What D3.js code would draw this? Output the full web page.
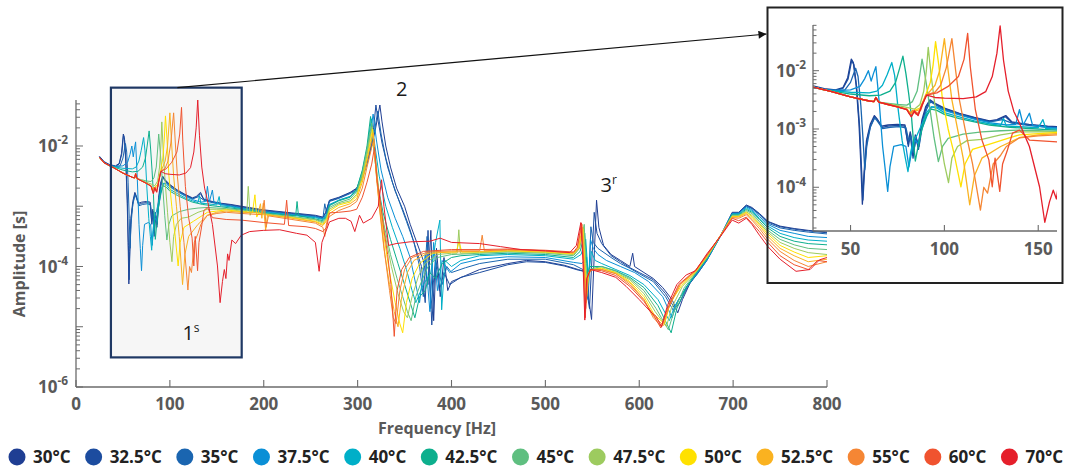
<!DOCTYPE html>
<html>
<head>
<meta charset="utf-8">
<script src="https://cdn.jsdelivr.net/npm/d3@7"></script>
<style>
  html, body { margin: 0; padding: 0; background: #fff; }
  svg { display: block; font-family: "Open Sans", "Noto Sans", sans-serif; }
</style>
</head>
<body>
<svg id="chart" width="1067" height="468"></svg>
<script>
// Frequency response amplitude vs. frequency, one curve per core temperature.
const temperatures = ["30°C", "32.5°C", "35°C", "37.5°C", "40°C", "42.5°C", "45°C",
                      "47.5°C", "50°C", "52.5°C", "55°C", "60°C", "70°C"];
const lineColors = ["#1f3e93", "#1c4c9f", "#1a65b0", "#0a8fd6", "#00afc8", "#0daf8d", "#5fbf80",
                    "#9dcb5f", "#ffe100", "#fab220", "#f58634", "#f0532f", "#e51f2b"];

const xTicksMain = [0, 100, 200, 300, 400, 500, 600, 700, 800];
const yLabelExpMain = [-6, -4, -2];
const xTicksInset = [50, 100, 150];
const yLabelExpInset = [-4, -3, -2];

// [frequency Hz, amplitude s]
const amp30 = [[25,6.76e-3],[30,5.50e-3],[36,4.90e-3],[42,4.68e-3],[46,5.13e-3],[48.5,7.59e-3],[50.4,1.58e-2],[51.5,1.38e-2],[53,5.62e-3],[54.5,1.26e-3],[55.5,2.51e-4],[56.3,5.13e-5],[57.2,1.78e-4],[58.5,6.31e-4],[60.5,1.20e-3],[62.7,1.70e-3],[64,1.51e-3],[66.5,1.12e-3],[70,1.17e-3],[75,1.20e-3],[79,1.17e-3],[80.6,5.62e-4],[81.8,8.91e-4],[83,3.55e-4],[84.5,7.94e-4],[86,5.01e-4],[88,1.41e-3],[90,2.40e-3],[92.3,3.16e-3],[95,2.75e-3],[100,2.29e-3],[108,1.86e-3],[116,1.58e-3],[124,1.38e-3],[128,1.45e-3],[132.7,1.70e-3],[136,1.32e-3],[145,1.20e-3],[155,1.12e-3],[165,1.07e-3],[176,1.00e-3],[200,8.71e-4],[230,7.76e-4],[255,7.08e-4],[263,6.61e-4],[266,7.94e-4],[270,1.26e-3],[280,1.41e-3],[292,1.70e-3],[299,2.00e-3],[305,3.16e-3],[310,5.62e-3],[315,1.00e-2],[319,1.91e-2],[323.7,4.79e-2],[326,2.51e-2],[330,1.00e-2],[335,4.47e-3],[341.5,2.00e-3],[350,1.00e-3],[356,5.01e-4],[363,2.51e-4],[370,1.26e-4],[375,5.01e-5],[378,3.98e-4],[381,1.26e-5],[384,2.00e-4],[388,3.16e-5],[392,1.41e-4],[396,3.98e-5],[400,5.62e-5],[415,7.08e-5],[430,8.91e-5],[460,1.12e-4],[480,1.26e-4],[500,1.20e-4],[520,1.05e-4],[535,8.91e-5],[542,8.32e-5],[549.2,1.32e-5],[554.5,1.26e-3],[557,4.47e-4],[562,2.24e-4],[570,1.58e-4],[580,1.26e-4],[590,1.00e-4],[593,1.66e-4],[595,1.00e-4],[605,7.94e-5],[615,6.31e-5],[625,4.47e-5],[635,2.82e-5],[641,1.70e-5],[646,2.82e-5],[654,5.25e-5],[662,7.94e-5],[672,1.32e-4],[688,3.55e-4],[699,7.94e-4],[706,7.94e-4],[714,1.05e-3],[720,9.55e-4],[728,7.59e-4],[737,5.62e-4],[750,4.68e-4],[765,4.27e-4],[780,3.98e-4],[800,3.72e-4]];

const amp32_5 = [[25,6.61e-3],[30,5.37e-3],[36,4.79e-3],[42,4.57e-3],[46,5.01e-3],[48.7,7.24e-3],[50.6,1.51e-2],[51.8,1.26e-2],[53.3,5.01e-3],[54.8,1.12e-3],[55.8,2.24e-4],[56.6,6.03e-5],[57.5,2.00e-4],[58.8,6.61e-4],[60.8,1.15e-3],[62.9,1.62e-3],[64.3,1.45e-3],[66.8,1.07e-3],[70,1.12e-3],[75,1.15e-3],[79,1.12e-3],[80.8,5.01e-4],[82,8.32e-4],[83.3,3.16e-4],[84.8,7.59e-4],[86.2,4.47e-4],[88.2,1.32e-3],[90.2,2.29e-3],[92.5,3.09e-3],[95,2.69e-3],[100,2.24e-3],[108,1.82e-3],[116,1.55e-3],[124,1.35e-3],[128,1.41e-3],[132.5,1.62e-3],[136,1.29e-3],[145,1.17e-3],[155,1.10e-3],[165,1.05e-3],[176,9.77e-4],[200,8.51e-4],[230,7.59e-4],[255,6.92e-4],[263,6.46e-4],[266,7.76e-4],[270,1.23e-3],[280,1.38e-3],[292,1.66e-3],[299,1.95e-3],[305,3.02e-3],[310,5.25e-3],[314,1.00e-2],[317,2.00e-2],[319.5,4.79e-2],[322,2.51e-2],[326,1.12e-2],[332,4.47e-3],[340,1.78e-3],[348,8.91e-4],[355,4.47e-4],[362,2.00e-4],[368,1.00e-4],[372,2.51e-5],[375,3.98e-4],[379,1.07e-5],[383,1.26e-4],[387,3.98e-5],[392,7.94e-5],[398,5.01e-5],[410,6.61e-5],[430,7.94e-5],[460,1.07e-4],[480,1.20e-4],[500,1.17e-4],[520,1.02e-4],[535,8.71e-5],[541,8.32e-5],[547,2.00e-5],[552,7.94e-4],[555,3.55e-4],[560,2.40e-4],[570,1.51e-4],[580,1.20e-4],[590,9.55e-5],[600,7.94e-5],[615,6.03e-5],[628,3.55e-5],[638,2.00e-5],[643,2.51e-5],[652,4.79e-5],[662,7.59e-5],[672,1.26e-4],[688,3.55e-4],[699,7.76e-4],[706,7.76e-4],[714,1.02e-3],[720,9.33e-4],[728,7.41e-4],[737,5.50e-4],[750,4.57e-4],[765,4.17e-4],[780,3.89e-4],[800,3.63e-4]];

const amp35 = [[25,6.61e-3],[30,5.37e-3],[36,4.79e-3],[42,4.57e-3],[47,4.68e-3],[50,6.31e-3],[52.7,1.10e-2],[54,7.94e-3],[55.5,2.51e-3],[56.7,6.31e-4],[57.6,2.00e-4],[58.6,5.01e-4],[60.5,1.07e-3],[62.8,1.55e-3],[64.2,1.38e-3],[67,1.02e-3],[71,1.07e-3],[76,1.10e-3],[79.5,1.05e-3],[81,6.31e-4],[82.2,7.59e-4],[83.5,3.98e-4],[85,6.92e-4],[86.5,5.01e-4],[88.4,1.20e-3],[90.4,2.14e-3],[92.6,2.95e-3],[95,2.63e-3],[100,2.14e-3],[108,1.78e-3],[116,1.51e-3],[124,1.32e-3],[131,1.45e-3],[136,1.26e-3],[145,1.15e-3],[155,1.07e-3],[165,1.02e-3],[176,9.55e-4],[200,8.32e-4],[230,7.41e-4],[255,6.76e-4],[263,6.31e-4],[265,1.10e-3],[267,7.59e-4],[270,1.20e-3],[280,1.35e-3],[292,1.62e-3],[299,1.86e-3],[305,2.88e-3],[310,5.01e-3],[315,1.02e-2],[318.5,2.00e-2],[321.5,3.80e-2],[325,1.58e-2],[330,6.31e-3],[337,2.51e-3],[345,1.12e-3],[352,5.62e-4],[360,2.51e-4],[366,1.00e-4],[370,3.16e-5],[374,3.16e-4],[378,2.00e-5],[383,1.26e-4],[390,5.01e-5],[395,1.00e-4],[400,7.94e-5],[415,9.55e-5],[430,1.12e-4],[460,1.32e-4],[500,1.32e-4],[530,1.07e-4],[540,8.91e-5],[545.6,2.82e-5],[548.5,4.57e-4],[551,2.51e-4],[556,2.00e-4],[570,1.41e-4],[580,1.12e-4],[590,9.33e-5],[600,7.59e-5],[615,5.62e-5],[628,3.16e-5],[637,1.78e-5],[642,2.82e-5],[652,5.01e-5],[662,7.59e-5],[672,1.26e-4],[688,3.47e-4],[699,7.59e-4],[706,7.76e-4],[714,1.00e-3],[720,9.12e-4],[728,7.24e-4],[737,5.25e-4],[750,4.37e-4],[765,3.98e-4],[780,3.72e-4],[800,3.47e-4]];

const amp37_5 = [[25,6.46e-3],[30,5.25e-3],[36,4.68e-3],[42,4.57e-3],[50,4.68e-3],[55,5.37e-3],[57.5,7.24e-3],[59.5,1.00e-2],[61,6.61e-3],[62.2,8.91e-3],[63.5,1.17e-2],[65.3,2.82e-3],[67.1,5.01e-4],[68.5,2.00e-4],[69.8,8.51e-5],[71,2.24e-4],[73,5.01e-4],[77,5.37e-4],[79.5,5.01e-4],[81.1,2.24e-4],[82.5,3.98e-4],[84.2,6.46e-4],[86,5.62e-4],[87.8,9.55e-4],[90.5,1.62e-3],[93.2,2.40e-3],[96,2.40e-3],[100,2.09e-3],[108,1.74e-3],[116,1.48e-3],[124,1.29e-3],[133,1.17e-3],[138,1.20e-3],[140,2.14e-3],[142,1.17e-3],[145.3,1.86e-3],[147,1.15e-3],[155,1.07e-3],[165,1.00e-3],[176,9.33e-4],[200,8.13e-4],[230,7.24e-4],[255,6.61e-4],[263,6.17e-4],[267,7.59e-4],[270,1.07e-3],[280,1.26e-3],[292,1.45e-3],[299,1.78e-3],[305,3.16e-3],[310,7.08e-3],[314,1.74e-2],[316.5,3.39e-2],[320,1.26e-2],[325,3.98e-3],[332,1.41e-3],[340,6.31e-4],[348,3.16e-4],[356,1.41e-4],[362,5.01e-5],[366,2.51e-5],[372,1.58e-4],[377,1.78e-5],[381,2.51e-4],[385,3.98e-5],[390,1.26e-4],[398,7.94e-5],[410,1.12e-4],[430,1.32e-4],[460,1.45e-4],[500,1.41e-4],[530,1.17e-4],[539,1.12e-4],[544,1.41e-4],[546,5.01e-5],[548,2.82e-4],[551,2.00e-4],[556,1.58e-4],[565,1.26e-4],[580,1.00e-4],[595,7.94e-5],[610,5.62e-5],[625,3.16e-5],[635,1.41e-5],[640,2.51e-5],[650,4.47e-5],[661,7.59e-5],[672,1.29e-4],[688,3.55e-4],[699,7.59e-4],[706,7.59e-4],[714,9.77e-4],[720,8.71e-4],[728,6.76e-4],[737,5.01e-4],[750,3.98e-4],[765,3.55e-4],[780,3.16e-4],[800,3.02e-4]];

const amp40 = [[25,6.46e-3],[30,5.25e-3],[36,4.68e-3],[42,4.47e-3],[50,4.27e-3],[60,4.17e-3],[64,4.47e-3],[67,5.62e-3],[69.5,8.51e-3],[72,1.38e-2],[73.5,8.32e-3],[75.5,2.00e-3],[77.5,6.31e-4],[79.2,3.16e-4],[80.6,1.86e-4],[82,3.98e-4],[83.5,6.31e-4],[85.5,7.94e-4],[88,1.20e-3],[90.5,1.91e-3],[93,2.40e-3],[96,2.29e-3],[100,1.91e-3],[108,1.62e-3],[116,1.38e-3],[124,1.23e-3],[130,1.15e-3],[131.5,1.51e-3],[133,1.12e-3],[140,1.10e-3],[150,1.05e-3],[152.5,1.45e-3],[154,1.02e-3],[165,9.77e-4],[176,9.12e-4],[200,7.94e-4],[230,7.08e-4],[255,6.46e-4],[263,6.03e-4],[267,7.24e-4],[270,1.05e-3],[280,1.26e-3],[292,1.45e-3],[299,1.91e-3],[305,3.80e-3],[310,8.91e-3],[313,1.91e-2],[314.8,2.82e-2],[318,1.12e-2],[323,3.16e-3],[330,1.00e-3],[337,4.47e-4],[345,2.00e-4],[352,8.91e-5],[358,3.98e-5],[362,2.51e-5],[370,5.01e-5],[378,7.94e-5],[383,2.51e-4],[387.6,5.89e-4],[389.5,1.91e-5],[393,1.26e-4],[400,1.00e-4],[410,1.26e-4],[430,1.51e-4],[460,1.58e-4],[500,1.51e-4],[530,1.32e-4],[538,1.58e-4],[543,2.82e-4],[545,1.00e-4],[546.5,7.94e-5],[549,1.78e-4],[553,1.26e-4],[560,1.12e-4],[575,8.91e-5],[590,7.08e-5],[605,5.01e-5],[620,2.82e-5],[632,1.26e-5],[638,2.24e-5],[648,3.98e-5],[660,7.41e-5],[672,1.32e-4],[688,3.55e-4],[699,7.41e-4],[706,7.41e-4],[714,9.33e-4],[720,8.32e-4],[728,6.31e-4],[737,4.68e-4],[750,3.55e-4],[765,3.02e-4],[780,2.75e-4],[800,2.63e-4]];

const amp42_5 = [[25,6.46e-3],[30,5.25e-3],[36,4.68e-3],[42,4.37e-3],[50,3.98e-3],[60,3.72e-3],[66,3.80e-3],[71,4.47e-3],[74,6.31e-3],[76.2,1.12e-2],[77.9,1.78e-2],[79.5,8.91e-3],[81,3.98e-3],[82.5,1.58e-3],[83.5,6.31e-4],[84.5,2.82e-4],[86,5.01e-4],[88,1.00e-3],[90.5,1.74e-3],[93,2.19e-3],[96,2.09e-3],[100,1.78e-3],[108,1.51e-3],[116,1.32e-3],[124,1.17e-3],[135,1.07e-3],[145,1.02e-3],[155,9.77e-4],[165,9.33e-4],[176,8.91e-4],[200,7.76e-4],[234,6.92e-4],[235.5,1.20e-3],[237,6.92e-4],[255,6.17e-4],[263,5.75e-4],[267,6.92e-4],[270,1.02e-3],[280,1.23e-3],[292,1.41e-3],[299,1.91e-3],[305,3.98e-3],[310,1.00e-2],[313.8,3.09e-2],[317,1.00e-2],[321,2.51e-3],[327,7.94e-4],[335,2.82e-4],[343,1.12e-4],[350,5.01e-5],[356,2.51e-5],[361,1.41e-5],[366,3.16e-5],[372,3.98e-5],[377,7.94e-5],[383,6.31e-5],[390,1.12e-4],[400,1.41e-4],[410,1.51e-4],[430,1.58e-4],[460,1.66e-4],[500,1.58e-4],[530,1.41e-4],[537,1.78e-4],[542,3.55e-4],[544,1.12e-4],[545.5,6.31e-5],[547.5,1.00e-4],[552,1.00e-4],[560,1.00e-4],[575,8.51e-5],[590,6.61e-5],[605,4.47e-5],[620,2.24e-5],[634,7.94e-6],[640,2.00e-5],[650,4.47e-5],[660,7.59e-5],[672,1.35e-4],[688,3.55e-4],[699,7.24e-4],[706,7.24e-4],[714,8.91e-4],[720,7.94e-4],[728,6.03e-4],[737,4.37e-4],[750,3.16e-4],[765,2.63e-4],[780,2.40e-4],[800,2.29e-4]];

const amp45 = [[25,6.46e-3],[30,5.25e-3],[40,4.37e-3],[50,3.55e-3],[60,3.02e-3],[62.5,2.95e-3],[63.5,3.47e-3],[65,2.88e-3],[70,2.75e-3],[75,2.63e-3],[80,2.57e-3],[83,2.95e-3],[85.5,4.47e-3],[87,8.91e-3],[88.1,1.58e-2],[89.5,8.91e-3],[91,4.47e-3],[92.5,2.00e-3],[94.5,7.08e-4],[96.8,2.75e-4],[99,5.01e-4],[102,6.92e-4],[110,8.13e-4],[120,8.91e-4],[130,9.33e-4],[140,9.55e-4],[150,9.33e-4],[160,9.12e-4],[176,8.71e-4],[200,7.59e-4],[230,6.76e-4],[255,6.03e-4],[263,5.50e-4],[267,6.61e-4],[270,9.55e-4],[280,1.15e-3],[292,1.32e-3],[299,1.74e-3],[305,3.55e-3],[310,8.91e-3],[315,2.40e-2],[318,7.94e-3],[322,2.00e-3],[328,5.01e-4],[335,1.58e-4],[342,6.31e-5],[348,3.16e-5],[353,1.78e-5],[357,1.26e-5],[362,3.16e-5],[368,5.62e-5],[375,1.00e-4],[385,1.41e-4],[400,1.58e-4],[430,1.66e-4],[460,1.74e-4],[500,1.66e-4],[530,1.51e-4],[536.5,2.00e-4],[541.4,5.01e-4],[543,1.12e-4],[545,5.01e-5],[547,8.91e-5],[551,9.33e-5],[560,1.00e-4],[575,8.32e-5],[590,6.31e-5],[605,3.98e-5],[618,2.00e-5],[631,8.91e-6],[637,1.78e-5],[648,4.47e-5],[660,7.76e-5],[672,1.38e-4],[688,3.55e-4],[699,7.08e-4],[706,7.08e-4],[714,8.51e-4],[720,7.59e-4],[728,5.62e-4],[737,3.98e-4],[750,2.82e-4],[765,2.29e-4],[780,2.00e-4],[800,1.91e-4]];

const amp47_5 = [[25,6.46e-3],[30,5.25e-3],[40,4.37e-3],[50,3.55e-3],[60,3.02e-3],[62.5,2.95e-3],[63.5,3.47e-3],[65,2.88e-3],[70,2.69e-3],[75,2.51e-3],[80,2.34e-3],[84,2.19e-3],[87,2.63e-3],[89,4.47e-3],[90.4,1.00e-2],[91.4,2.51e-2],[93,7.94e-3],[95,2.51e-3],[97.5,7.94e-4],[100,2.51e-4],[102.2,1.20e-4],[104,3.16e-4],[107,5.01e-4],[112,6.31e-4],[120,6.61e-4],[130,7.94e-4],[140,8.91e-4],[150,8.91e-4],[160,8.91e-4],[176,8.32e-4],[182,8.13e-4],[183.5,2.14e-3],[185.5,7.08e-4],[187,8.13e-4],[200,7.41e-4],[230,6.61e-4],[255,5.89e-4],[263,5.25e-4],[267,6.31e-4],[270,8.91e-4],[280,1.10e-3],[292,1.23e-3],[299,1.58e-3],[305,3.16e-3],[310,7.59e-3],[315.5,2.09e-2],[319,6.31e-3],[323,1.58e-3],[329,3.55e-4],[336,1.00e-4],[343,3.55e-5],[349,1.78e-5],[353,1.41e-5],[358,3.16e-5],[365,7.08e-5],[372,1.12e-4],[385,1.58e-4],[400,1.66e-4],[406,1.66e-4],[407.8,4.07e-4],[409.5,1.66e-4],[430,1.70e-4],[460,1.78e-4],[500,1.70e-4],[530,1.58e-4],[536,2.00e-4],[540.5,4.47e-4],[542.5,1.12e-4],[544.5,3.98e-5],[546.5,7.94e-5],[550,8.91e-5],[560,9.55e-5],[575,7.94e-5],[590,6.03e-5],[605,3.55e-5],[617,1.78e-5],[629,1.00e-5],[634,2.00e-5],[646,4.68e-5],[660,7.94e-5],[672,1.41e-4],[688,3.55e-4],[699,6.92e-4],[706,6.92e-4],[714,8.13e-4],[720,7.08e-4],[728,5.25e-4],[737,3.72e-4],[750,2.51e-4],[765,2.00e-4],[780,1.70e-4],[800,1.58e-4]];

const amp50 = [[25,6.46e-3],[30,5.25e-3],[40,4.37e-3],[50,3.55e-3],[60,3.02e-3],[62.5,2.95e-3],[63.5,3.47e-3],[65,2.88e-3],[70,2.63e-3],[75,2.40e-3],[80,2.19e-3],[82,1.91e-3],[84,2.09e-3],[87,2.29e-3],[90,3.80e-3],[92.5,6.31e-3],[94,1.26e-2],[95.3,3.16e-2],[97,1.26e-2],[99,3.16e-3],[102,1.00e-3],[105,3.98e-4],[108.8,1.02e-4],[111,2.51e-4],[115,4.47e-4],[125,5.62e-4],[135,7.08e-4],[140,7.94e-4],[150,8.32e-4],[160,8.71e-4],[176,8.13e-4],[188,7.94e-4],[190.6,1.55e-3],[192.5,6.61e-4],[195,7.76e-4],[200,7.24e-4],[230,6.46e-4],[255,5.62e-4],[263,5.01e-4],[267,6.03e-4],[270,8.32e-4],[280,1.05e-3],[292,1.17e-3],[299,1.48e-3],[305,2.82e-3],[310,6.31e-3],[316,1.91e-2],[319,5.01e-3],[323,1.26e-3],[328,3.16e-4],[334,7.94e-5],[340,2.51e-5],[345,1.12e-5],[348,7.94e-6],[352,2.51e-5],[358,6.31e-5],[366,1.12e-4],[380,1.66e-4],[395,1.74e-4],[405,1.74e-4],[408,2.57e-4],[411,1.74e-4],[430,1.74e-4],[460,1.82e-4],[500,1.74e-4],[530,1.62e-4],[535.5,2.00e-4],[540,4.17e-4],[542,1.12e-4],[544,3.16e-5],[546,7.94e-5],[550,8.91e-5],[560,9.33e-5],[575,7.94e-5],[590,5.62e-5],[605,3.16e-5],[616,1.58e-5],[627,1.12e-5],[633,2.51e-5],[645,4.79e-5],[660,8.13e-5],[672,1.45e-4],[688,3.55e-4],[699,6.76e-4],[706,6.76e-4],[714,7.94e-4],[720,6.76e-4],[728,5.01e-4],[737,3.47e-4],[750,2.24e-4],[765,1.74e-4],[780,1.41e-4],[800,1.51e-4]];

const amp52_5 = [[25,6.46e-3],[30,5.25e-3],[40,4.37e-3],[50,3.55e-3],[60,3.02e-3],[62.5,2.95e-3],[63.5,3.47e-3],[65,2.88e-3],[70,2.63e-3],[75,2.40e-3],[80,2.19e-3],[82,1.82e-3],[84,2.00e-3],[87,2.14e-3],[90,3.63e-3],[95,5.62e-3],[97.5,1.00e-2],[100,3.55e-2],[102,1.00e-2],[104,3.16e-3],[107,1.00e-3],[110,3.16e-4],[113.5,5.01e-5],[116,1.58e-4],[120,3.16e-4],[130,5.01e-4],[140,7.08e-4],[150,7.94e-4],[160,8.32e-4],[176,7.94e-4],[194,7.76e-4],[196.5,1.10e-3],[198,6.31e-4],[199.5,1.12e-3],[202,3.98e-4],[204,7.24e-4],[230,6.31e-4],[255,5.50e-4],[263,4.79e-4],[267,5.75e-4],[270,7.59e-4],[280,9.55e-4],[292,1.10e-3],[299,1.32e-3],[305,2.51e-3],[310,5.62e-3],[316.5,1.66e-2],[319.5,3.98e-3],[323,1.00e-3],[328,2.00e-4],[334,5.01e-5],[339,1.78e-5],[343,1.00e-5],[347,3.16e-5],[353,7.94e-5],[360,1.26e-4],[375,1.66e-4],[400,1.74e-4],[430,1.78e-4],[460,1.86e-4],[500,1.78e-4],[530,1.66e-4],[535,2.00e-4],[539.5,4.47e-4],[541.5,1.12e-4],[543.5,2.51e-5],[545.5,7.08e-5],[549,8.91e-5],[560,8.91e-5],[575,7.59e-5],[590,5.37e-5],[605,2.82e-5],[615,1.51e-5],[626,1.05e-5],[632,2.24e-5],[644,5.01e-5],[660,8.32e-5],[672,1.48e-4],[688,3.55e-4],[699,6.61e-4],[706,6.61e-4],[714,7.59e-4],[720,6.31e-4],[728,4.68e-4],[737,3.16e-4],[750,2.00e-4],[765,1.51e-4],[780,1.20e-4],[800,1.32e-4]];

const amp55 = [[25,6.46e-3],[30,5.25e-3],[40,4.37e-3],[50,3.55e-3],[60,3.02e-3],[62.5,2.95e-3],[63.5,3.47e-3],[65,2.88e-3],[70,2.63e-3],[75,2.40e-3],[80,2.19e-3],[81.5,1.78e-3],[83,2.09e-3],[85,1.78e-3],[87.5,2.14e-3],[90,3.80e-3],[95,4.27e-3],[98,5.62e-3],[101,1.12e-2],[104,3.55e-2],[106,1.00e-2],[108,3.16e-3],[111,1.00e-3],[115,2.51e-4],[119.2,4.07e-5],[121,1.00e-4],[123,7.94e-5],[126,2.51e-4],[130,3.55e-4],[133,5.01e-4],[140,7.08e-4],[150,7.59e-4],[160,7.94e-4],[176,7.59e-4],[198,7.24e-4],[200.5,1.26e-3],[202.5,4.47e-4],[205,6.92e-4],[230,6.03e-4],[255,5.25e-4],[263,4.47e-4],[265,3.16e-4],[267,5.37e-4],[270,6.76e-4],[280,8.51e-4],[292,1.00e-3],[299,1.20e-3],[305,2.00e-3],[310,4.47e-3],[317.3,1.32e-2],[320,3.16e-3],[324,7.94e-4],[329,1.58e-4],[334,3.98e-5],[338,1.41e-5],[341,1.12e-5],[345,3.98e-5],[350,8.91e-5],[358,1.41e-4],[375,1.74e-4],[400,1.82e-4],[430,1.82e-4],[432.7,3.31e-4],[435,1.82e-4],[460,1.91e-4],[500,1.82e-4],[530,1.70e-4],[534,2.00e-4],[539,5.01e-4],[541,1.12e-4],[543,2.00e-5],[545,7.08e-5],[549,8.91e-5],[560,8.91e-5],[575,7.59e-5],[590,5.01e-5],[605,2.82e-5],[615,1.41e-5],[624,1.00e-5],[631,2.00e-5],[643,5.01e-5],[660,8.51e-5],[672,1.51e-4],[688,3.55e-4],[699,6.46e-4],[706,6.31e-4],[714,7.24e-4],[720,5.89e-4],[728,4.27e-4],[737,2.82e-4],[750,1.78e-4],[765,1.26e-4],[780,1.00e-4],[800,1.20e-4]];

const amp60 = [[25,6.46e-3],[30,5.25e-3],[40,4.37e-3],[50,3.55e-3],[60,3.02e-3],[62.5,2.95e-3],[63.5,3.47e-3],[65,2.88e-3],[70,2.63e-3],[75,2.40e-3],[80,2.14e-3],[82.4,1.62e-3],[84,2.09e-3],[86,1.74e-3],[88,2.63e-3],[90.5,3.80e-3],[96,4.17e-3],[102,5.37e-3],[107.5,7.94e-3],[110.5,1.58e-2],[112.4,4.37e-2],[113.8,1.17e-2],[116.5,2.14e-3],[120,6.46e-4],[123.7,2.95e-4],[125.5,1.02e-4],[127,3.16e-4],[129.5,8.51e-5],[131,2.51e-4],[133.6,4.37e-4],[136.3,8.51e-4],[140,9.55e-4],[145.3,6.46e-4],[160,6.03e-4],[176,5.89e-4],[200,5.37e-4],[222,5.01e-4],[224.4,1.26e-3],[226.5,4.79e-4],[245,4.57e-4],[255,4.27e-4],[263,3.80e-4],[267,4.47e-4],[270,7.76e-4],[280,7.94e-4],[292,8.32e-4],[299,8.91e-4],[305,1.41e-3],[310,2.51e-3],[315,5.01e-3],[318,9.55e-3],[321,2.51e-3],[324,1.26e-3],[328,3.98e-4],[332,1.58e-4],[335.5,5.01e-5],[339,6.92e-6],[342,3.98e-5],[347,8.91e-5],[355,1.41e-4],[370,1.78e-4],[400,1.91e-4],[430,1.91e-4],[460,1.95e-4],[500,1.86e-4],[530,1.74e-4],[534,2.09e-4],[538.5,5.25e-4],[540.5,1.12e-4],[542.5,1.41e-5],[544.5,6.31e-5],[548,8.91e-5],[560,8.51e-5],[575,7.08e-5],[590,4.68e-5],[605,2.63e-5],[615,1.58e-5],[623,9.55e-6],[630,2.00e-5],[642,5.01e-5],[660,8.71e-5],[672,1.55e-4],[688,3.47e-4],[699,6.31e-4],[706,5.75e-4],[714,6.61e-4],[720,5.25e-4],[728,3.80e-4],[737,2.51e-4],[750,1.51e-4],[765,1.07e-4],[780,8.91e-5],[790,1.26e-4],[800,1.20e-4]];

const amp70 = [[25,6.46e-3],[30,5.25e-3],[40,4.37e-3],[50,3.55e-3],[60,3.02e-3],[62.5,2.95e-3],[63.5,3.47e-3],[65,2.88e-3],[70,2.63e-3],[75,2.40e-3],[80,2.14e-3],[82.4,1.62e-3],[84,2.00e-3],[86,1.70e-3],[88,2.51e-3],[90.5,3.80e-3],[95,3.47e-3],[100,3.39e-3],[110,3.31e-3],[117,3.55e-3],[122,4.37e-3],[125.5,7.94e-3],[128,2.00e-2],[129.7,5.89e-2],[131.5,1.51e-2],[134,4.47e-3],[137,2.00e-3],[140,1.26e-3],[145.3,5.01e-4],[150.7,1.02e-4],[153.5,2.51e-5],[156,5.62e-5],[158,8.91e-5],[159.7,6.31e-5],[161.5,1.62e-4],[163,1.26e-4],[166,2.75e-4],[170,2.40e-4],[176,3.31e-4],[185,3.80e-4],[200,3.98e-4],[217,4.07e-4],[235,3.55e-4],[246,3.31e-4],[255,2.51e-4],[259,8.32e-5],[262,2.51e-4],[265,3.39e-4],[270,5.50e-4],[280,6.31e-4],[287,6.31e-4],[293,5.62e-4],[297,3.80e-4],[302,7.08e-4],[306,5.25e-4],[315,6.31e-4],[322,1.00e-3],[325.5,2.75e-3],[328,1.00e-3],[333,2.24e-4],[341,2.40e-4],[356,2.57e-4],[377,2.63e-4],[388,2.95e-4],[400,2.51e-4],[430,2.40e-4],[452,2.14e-4],[474,1.91e-4],[500,1.82e-4],[526,1.70e-4],[533,2.24e-4],[537.8,5.37e-4],[540,1.26e-4],[542,1.29e-5],[544,6.31e-5],[548,8.91e-5],[560,7.94e-5],[575,6.61e-5],[586,4.68e-5],[600,2.82e-5],[612,1.78e-5],[618,1.48e-5],[623.7,1.00e-5],[630,2.24e-5],[640,5.01e-5],[650,7.24e-5],[660,8.51e-5],[672,1.62e-4],[688,3.39e-4],[699,5.89e-4],[706,5.25e-4],[714,6.31e-4],[720,5.01e-4],[728,3.31e-4],[737,2.14e-4],[750,1.32e-4],[767,8.32e-5],[782,8.91e-5],[792,1.29e-4],[800,1.41e-4]];

const seriesData = [amp30, amp32_5, amp35, amp37_5, amp40, amp42_5, amp45,
                    amp47_5, amp50, amp52_5, amp55, amp60, amp70];

// ---------------------------------------------------------------- layout
const svg = d3.select("#chart");
const axisGrey = "#6b6b6b";
const labelGrey = "#595959";

const x = d3.scaleLinear().domain([0, 800]).range([76, 827]);
const y = d3.scaleLog().domain([1e-6, 0.058]).range([387, 100]);

const xi = d3.scaleLinear().domain([30, 160]).range([813, 1057]);
const yi = d3.scaleLog().domain([1.778e-5, 0.0608]).range([231, 25]);

const defs = svg.append("defs");
defs.append("clipPath").attr("id", "clipMain").append("rect")
  .attr("x", x.range()[0]).attr("y", y.range()[1])
  .attr("width", x.range()[1] - x.range()[0]).attr("height", y.range()[0] - y.range()[1]);
defs.append("clipPath").attr("id", "clipInset").append("rect")
  .attr("x", xi.range()[0]).attr("y", yi.range()[1])
  .attr("width", xi.range()[1] - xi.range()[0]).attr("height", yi.range()[0] - yi.range()[1]);

// highlighted first-mode band (37–176 Hz)
const band = { f0: 37.2, f1: 176.5, aTop: 0.093, aBottom: 3.1e-6 };
const bandRect = {
  x: x(band.f0), y: y(band.aTop),
  w: x(band.f1) - x(band.f0), h: y(band.aBottom) - y(band.aTop)
};
svg.append("rect")
  .attr("x", bandRect.x).attr("y", bandRect.y)
  .attr("width", bandRect.w).attr("height", bandRect.h)
  .attr("fill", "#f6f6f6");

// curves, main axes
const lineMain = d3.line().x(d => x(d[0])).y(d => y(d[1]));
svg.append("g").attr("clip-path", "url(#clipMain)")
  .selectAll("path").data(seriesData).join("path")
  .attr("d", lineMain)
  .attr("fill", "none")
  .attr("stroke", (d, i) => lineColors[i])
  .attr("stroke-width", 1)
  .attr("stroke-linejoin", "round");

svg.append("rect")
  .attr("x", bandRect.x).attr("y", bandRect.y)
  .attr("width", bandRect.w).attr("height", bandRect.h)
  .attr("fill", "none").attr("stroke", "#1f3864").attr("stroke-width", 2.2);

// log tick helper
function logTicks(scale) {
  const [lo, hi] = scale.domain();
  const out = [];
  for (let e = Math.floor(Math.log10(lo)); e <= Math.ceil(Math.log10(hi)); e++) {
    for (let m = 1; m < 10; m++) {
      const v = m * Math.pow(10, e);
      if (v >= lo * 0.999 && v <= hi * 1.001) out.push({ v, major: m === 1, e });
    }
  }
  return out;
}

function drawAxes(g, xs, ys, xTicks, yLabelExp, opts) {
  const [x0, x1] = xs.range();
  const [yb, yt] = ys.range();
  g.append("line").attr("x1", x0).attr("x2", x1).attr("y1", yb).attr("y2", yb)
    .attr("stroke", axisGrey).attr("stroke-width", 1.3);
  g.append("line").attr("x1", x0).attr("x2", x0).attr("y1", yb).attr("y2", yt)
    .attr("stroke", axisGrey).attr("stroke-width", 1.3);

  g.selectAll(".xt").data(xTicks).join("line")
    .attr("x1", d => xs(d)).attr("x2", d => xs(d))
    .attr("y1", yb).attr("y2", yb - opts.major)
    .attr("stroke", axisGrey).attr("stroke-width", 1.1);
  g.selectAll(".xl").data(xTicks).join("text")
    .attr("x", d => xs(d)).attr("y", yb + opts.xLabelOffset)
    .attr("text-anchor", "middle")
    .attr("font-size", opts.fontSize).attr("font-weight", 700).attr("fill", labelGrey)
    .text(d => d);

  const yt2 = logTicks(ys);
  g.selectAll(".yt").data(yt2).join("line")
    .attr("x1", x0).attr("x2", d => x0 + (d.major ? opts.major : opts.minor))
    .attr("y1", d => ys(d.v)).attr("y2", d => ys(d.v))
    .attr("stroke", axisGrey).attr("stroke-width", 1);

  const lab = g.selectAll(".yl").data(yLabelExp).join("text")
    .attr("x", x0 - opts.yLabelPad).attr("y", d => ys(Math.pow(10, d)) + opts.fontSize * 0.36)
    .attr("text-anchor", "end")
    .attr("font-size", opts.fontSize).attr("font-weight", 700).attr("fill", labelGrey);
  lab.append("tspan").text("10");
  lab.append("tspan").attr("dy", -opts.fontSize * 0.45)
    .attr("font-size", opts.fontSize * 0.7).text(d => String(d));
}

drawAxes(svg.append("g"), x, y, xTicksMain, yLabelExpMain,
  { major: 7, minor: 4, fontSize: 17, xLabelOffset: 23, yLabelPad: 8 });

// axis titles
svg.append("text")
  .attr("x", 437).attr("y", 434)
  .attr("text-anchor", "middle").attr("font-size", 16).attr("font-weight", 700)
  .attr("fill", labelGrey).text("Frequency [Hz]");
svg.append("text")
  .attr("transform", "translate(25,264) rotate(-90)")
  .attr("text-anchor", "middle").attr("font-size", 16).attr("font-weight", 700)
  .attr("fill", labelGrey).text("Amplitude [s]");

// mode labels
const modeLabels = [
  { base: "1", sup: "s", f: 122.5, a: 6.1e-6 },
  { base: "2", sup: "",  f: 347, a: 0.0674 },
  { base: "3", sup: "r", f: 567.5, a: 1.73e-3 }
];
const ml = svg.selectAll(".mode").data(modeLabels).join("text")
  .attr("x", d => x(d.f)).attr("y", d => y(d.a))
  .attr("text-anchor", "middle").attr("font-size", 20).attr("fill", "#1a1a1a");
ml.append("tspan").text(d => d.base);
ml.append("tspan").attr("dy", -8).attr("font-size", 12).text(d => d.sup);

// inset frame and callout arrow
const insetBox = { x: 767.5, y: 7.5, w: 295, h: 275.5 };
defs.append("marker").attr("id", "arrowHead")
  .attr("viewBox", "0 0 10 10").attr("refX", 10).attr("refY", 5)
  .attr("markerWidth", 10).attr("markerHeight", 8).attr("markerUnits", "userSpaceOnUse")
  .attr("orient", "auto")
  .append("path").attr("d", "M0,0 L10,5 L0,10 Z").attr("fill", "#111");
svg.append("line")
  .attr("x1", x(108)).attr("y1", bandRect.y)
  .attr("x2", insetBox.x - 1).attr("y2", 34)
  .attr("stroke", "#111").attr("stroke-width", 1.2)
  .attr("marker-end", "url(#arrowHead)");

svg.append("rect")
  .attr("x", insetBox.x).attr("y", insetBox.y)
  .attr("width", insetBox.w).attr("height", insetBox.h)
  .attr("fill", "none").attr("stroke", "#222").attr("stroke-width", 2);

const lineInset = d3.line().x(d => xi(d[0])).y(d => yi(d[1]));
svg.append("g").attr("clip-path", "url(#clipInset)")
  .selectAll("path").data(seriesData.map(s => s.filter(p => p[0] <= 200))).join("path")
  .attr("d", lineInset)
  .attr("fill", "none")
  .attr("stroke", (d, i) => lineColors[i])
  .attr("stroke-width", 1.3)
  .attr("stroke-linejoin", "round");

drawAxes(svg.append("g"), xi, yi, xTicksInset, yLabelExpInset,
  { major: 6, minor: 3.5, fontSize: 17, xLabelOffset: 24, yLabelPad: 7 });

// legend
const legendY = 457;
const legendG = svg.append("g");
const items = legendG.selectAll("g").data(temperatures).join("g");
items.append("circle").attr("r", 8.5).attr("cy", legendY)
  .attr("fill", (d, i) => lineColors[i]);
items.append("text").attr("y", legendY + 6)
  .attr("font-size", 17).attr("font-weight", 700).attr("fill", "#222")
  .text(d => d);
const widths = items.select("text").nodes().map(n => n.getComputedTextLength());
const startX = 17, endX = 1063, textOff = 16;
const totalItems = widths.reduce((s, w) => s + textOff + w, 0);
const gap = (endX - startX - totalItems) / (temperatures.length - 1);
let cx = startX;
items.each(function (d, i) {
  const g = d3.select(this);
  g.select("circle").attr("cx", cx);
  g.select("text").attr("x", cx + textOff);
  cx += textOff + widths[i] + gap;
});
</script>
</body>
</html>
